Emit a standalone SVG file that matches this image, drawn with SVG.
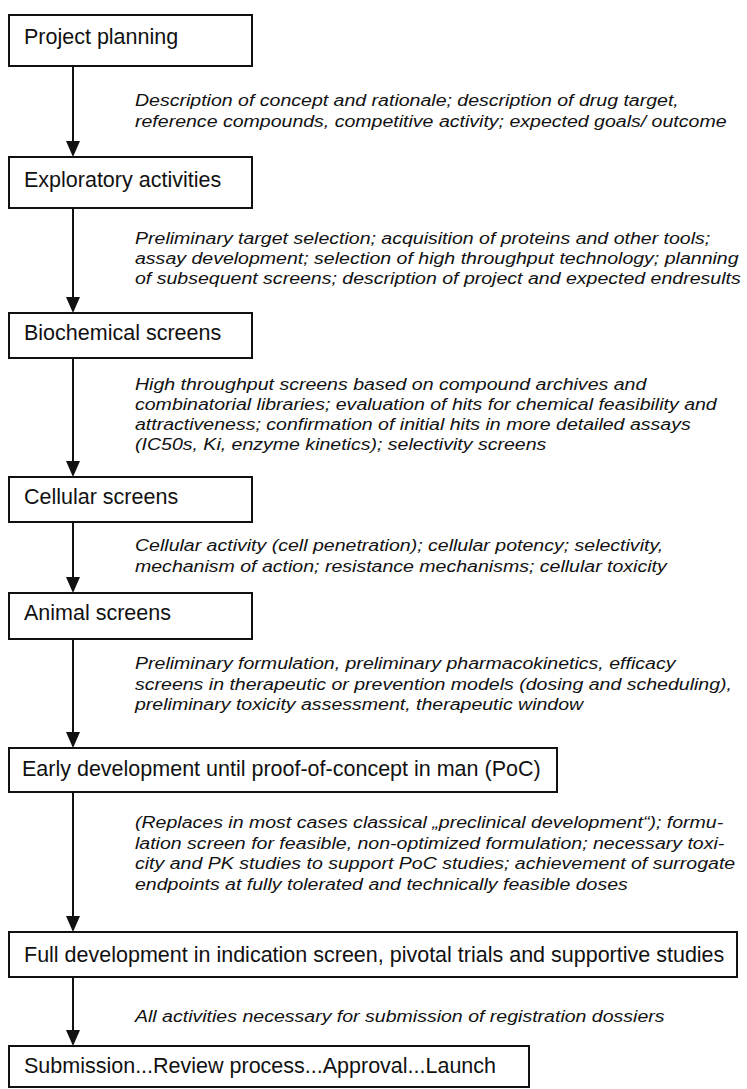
<svg xmlns="http://www.w3.org/2000/svg" width="747" height="1089" viewBox="0 0 747 1089">
<style>
.box{fill:#fff;stroke:#111;stroke-width:2}
.lbl{font-family:"Liberation Sans",Arial,sans-serif;font-size:21.5px;fill:#111}
.desc{font-family:"Liberation Sans",Arial,sans-serif;font-size:17px;font-style:italic;fill:#111}
.conn line{stroke:#111;stroke-width:2}
.conn path{fill:#111}
</style>
<defs>
<path id="head" d="M-7,-16 L7,-16 L0,0 Z"/>
</defs>
<rect width="747" height="1089" fill="#fff"/>
<g id="connectors" class="conn">
<line x1="73" y1="66" x2="73" y2="145"/><use href="#head" x="73" y="157" fill="#111"/>
<line x1="73" y1="208" x2="73" y2="301"/><use href="#head" x="73" y="313" fill="#111"/>
<line x1="73" y1="358" x2="73" y2="465"/><use href="#head" x="73" y="477" fill="#111"/>
<line x1="73" y1="522" x2="73" y2="581"/><use href="#head" x="73" y="593" fill="#111"/>
<line x1="73" y1="639" x2="73" y2="736"/><use href="#head" x="73" y="748" fill="#111"/>
<line x1="73" y1="792" x2="73" y2="920"/><use href="#head" x="73" y="932" fill="#111"/>
<line x1="73" y1="977" x2="73" y2="1034"/><use href="#head" x="73" y="1046" fill="#111"/>
</g>
<g id="n1"><rect class="box" x="9" y="15" width="243" height="51"/><text class="lbl" x="24" y="44">Project planning</text></g>
<g id="d1" transform="translate(135,0) scale(1.15,1)"><text class="desc"><tspan x="0" y="106">Description of concept and rationale; description of drug target,</tspan><tspan x="0" y="127">reference compounds, competitive activity; expected goals/ outcome</tspan></text></g>
<g id="n2"><rect class="box" x="9" y="157" width="243" height="51"/><text class="lbl" x="24" y="187">Exploratory activities</text></g>
<g id="d2" transform="translate(135,0) scale(1.15,1)"><text class="desc"><tspan x="0" y="244">Preliminary target selection; acquisition of proteins and other tools;</tspan><tspan x="0" y="264">assay development; selection of high throughput technology; planning</tspan><tspan x="0" y="284">of subsequent screens; description of project and expected endresults</tspan></text></g>
<g id="n3"><rect class="box" x="9" y="313" width="243" height="45"/><text class="lbl" x="24" y="340">Biochemical screens</text></g>
<g id="d3" transform="translate(135,0) scale(1.15,1)"><text class="desc"><tspan x="0" y="390">High throughput screens based on compound archives and</tspan><tspan x="0" y="410">combinatorial libraries; evaluation of hits for chemical feasibility and</tspan><tspan x="0" y="430">attractiveness; confirmation of initial hits in more detailed assays</tspan><tspan x="0" y="450">(IC50s, Ki, enzyme kinetics); selectivity screens</tspan></text></g>
<g id="n4"><rect class="box" x="9" y="477" width="243" height="45"/><text class="lbl" x="24" y="504">Cellular screens</text></g>
<g id="d4" transform="translate(135,0) scale(1.15,1)"><text class="desc"><tspan x="0" y="551">Cellular activity (cell penetration); cellular potency; selectivity,</tspan><tspan x="0" y="572">mechanism of action; resistance mechanisms; cellular toxicity</tspan></text></g>
<g id="n5"><rect class="box" x="9" y="593" width="243" height="46"/><text class="lbl" x="24" y="620">Animal screens</text></g>
<g id="d5" transform="translate(135,0) scale(1.15,1)"><text class="desc"><tspan x="0" y="669">Preliminary formulation, preliminary pharmacokinetics, efficacy</tspan><tspan x="0" y="690">screens in therapeutic or prevention models (dosing and scheduling),</tspan><tspan x="0" y="710">preliminary toxicity assessment, therapeutic window</tspan></text></g>
<g id="n6"><rect class="box" x="9" y="748" width="548" height="44"/><text class="lbl" x="22" y="776">Early development until proof-of-concept in man (PoC)</text></g>
<g id="d6" transform="translate(135,0) scale(1.15,1)"><text class="desc"><tspan x="0" y="828">(Replaces in most cases classical „preclinical development“); formu-</tspan><tspan x="0" y="849">lation screen for feasible, non-optimized formulation; necessary toxi-</tspan><tspan x="0" y="869">city and PK studies to support PoC studies; achievement of surrogate</tspan><tspan x="0" y="890">endpoints at fully tolerated and technically feasible doses</tspan></text></g>
<g id="n7"><rect class="box" x="9" y="932" width="728" height="45"/><text class="lbl" x="24" y="962">Full development in indication screen, pivotal trials and supportive studies</text></g>
<g id="d7" transform="translate(135,0) scale(1.15,1)"><text class="desc"><tspan x="0" y="1022">All activities necessary for submission of registration dossiers</tspan></text></g>
<g id="n8"><rect class="box" x="9" y="1046" width="520" height="41"/><text class="lbl" x="24" y="1073">Submission...Review process...Approval...Launch</text></g>
</svg>
